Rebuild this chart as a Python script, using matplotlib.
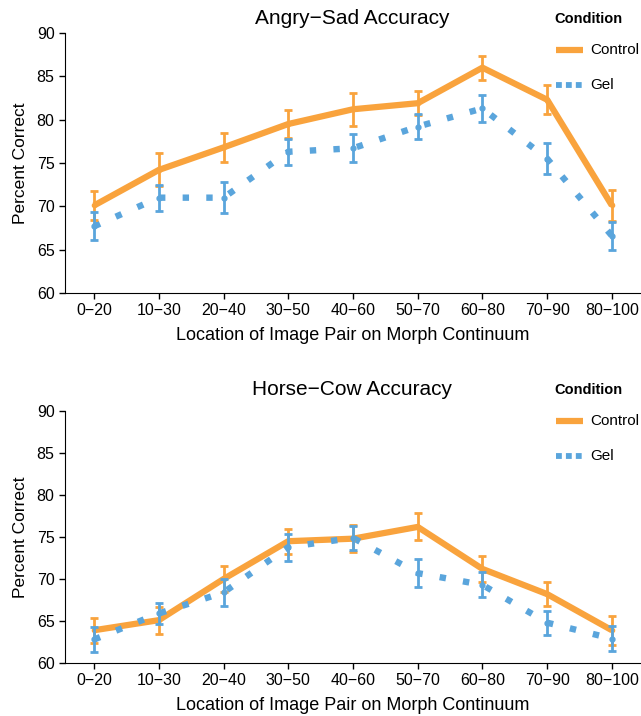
import matplotlib.pyplot as plt

plt.rcParams['font.family'] = ['Liberation Sans', 'DejaVu Sans']

bins = ['0\u221220', '10\u221230', '20\u221240', '30\u221250', '40\u221260',
        '50\u221270', '60\u221280', '70\u221290', '80\u2212100']

# Angry-Sad
as_control = [70.1, 74.2, 76.8, 79.5, 81.2, 81.9, 86.0, 82.3, 70.1]
as_control_err = [1.7, 1.9, 1.7, 1.6, 1.9, 1.4, 1.4, 1.7, 1.8]
as_gel = [67.7, 71.0, 71.0, 76.3, 76.7, 79.2, 81.3, 75.5, 66.6]
as_gel_err = [1.6, 1.5, 1.8, 1.5, 1.6, 1.4, 1.6, 1.8, 1.6]

# Horse-Cow
hc_control = [63.9, 65.1, 70.0, 74.5, 74.8, 76.2, 71.2, 68.2, 63.9]
hc_control_err = [1.5, 1.6, 1.5, 1.5, 1.6, 1.6, 1.5, 1.4, 1.7]
hc_gel = [62.8, 65.9, 68.4, 73.8, 74.9, 70.7, 69.3, 64.8, 62.9]
hc_gel_err = [1.5, 1.3, 1.6, 1.6, 1.4, 1.65, 1.5, 1.45, 1.5]

ORANGE = '#F9A33D'
BLUE = '#5AA5DC'

fig = plt.figure(figsize=(6.41, 7.16), dpi=100)
W, H = 641, 716


def make_axes(top_px, bottom_px):
    left = 65 / W
    width = (641 - 65) / W
    b = 1 - bottom_px / H
    h = (bottom_px - top_px) / H
    return fig.add_axes([left, b, width, h])


def panel(ax, title, control, control_err, gel, gel_err, title_y):
    x = list(range(len(bins)))
    ax.plot(x, control, color=ORANGE, lw=4.5, solid_capstyle='butt', zorder=2)
    ax.plot(x, gel, color=BLUE, lw=4.6, linestyle=(0, (1.0, 2.7)),
            dash_capstyle='butt', zorder=2.5)
    ax.errorbar(x, control, yerr=control_err, fmt='o', color=ORANGE, ms=3,
                elinewidth=2, capsize=3, capthick=2, zorder=3)
    ax.errorbar(x, gel, yerr=gel_err, fmt='o', color=BLUE, ms=3.5,
                elinewidth=2, capsize=3, capthick=2, zorder=4)
    ax.set_xlim(-0.45, 8.45)
    ax.set_ylim(60, 90)
    ax.set_yticks([60, 65, 70, 75, 80, 85, 90])
    ax.set_xticks(x)
    ax.set_xticklabels(bins)
    ax.tick_params(labelsize=11.5, length=4, width=1, color='black')
    ax.spines['top'].set_visible(False)
    ax.spines['right'].set_visible(False)
    ax.set_xlabel('Location of Image Pair on Morph Continuum', fontsize=13, labelpad=6)
    ax.set_ylabel('Percent Correct', fontsize=12.5, labelpad=6)
    fig.text(352 / W, 1 - title_y / H, title, fontsize=15, ha='center', va='center')
    # legend drawn by hand at the right, as in the cropped original
    fig.text(554 / W, 1 - title_y / H, 'Condition', fontsize=10.5,
             fontweight='bold', ha='left', va='center')
    y1 = 1 - (title_y + 31) / H
    y2 = 1 - (title_y + 66) / H
    fig.add_artist(plt.Line2D([556 / W, 583 / W], [y1, y1], color=ORANGE, lw=4.5,
                              solid_capstyle='butt'))
    fig.add_artist(plt.Line2D([556 / W, 583 / W], [y2, y2], color=BLUE, lw=4.2,
                              linestyle=(0, (1.0, 0.7)), dash_capstyle='butt'))
    fig.text(590 / W, y1, 'Control', fontsize=11, ha='left', va='center')
    fig.text(590 / W, y2, 'Gel', fontsize=11, ha='left', va='center')


ax1 = make_axes(33, 293)
panel(ax1, 'Angry\u2212Sad Accuracy', as_control, as_control_err, as_gel, as_gel_err, 19)
ax2 = make_axes(411, 663)
panel(ax2, 'Horse\u2212Cow Accuracy', hc_control, hc_control_err, hc_gel, hc_gel_err, 390)

fig.savefig('out.png', dpi=100)
